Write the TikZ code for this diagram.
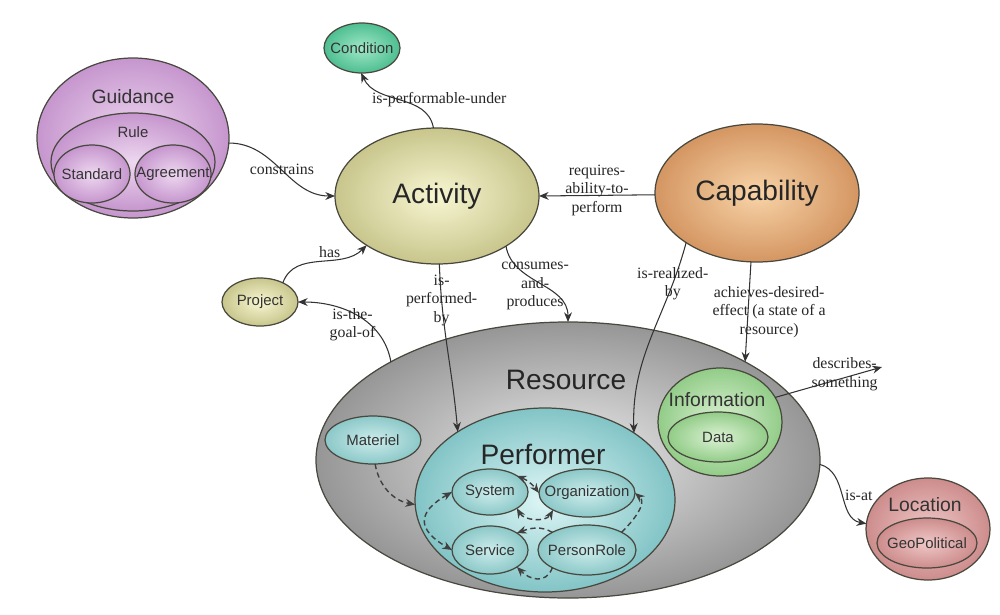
\documentclass[tikz,border=0pt]{standalone}
\usepackage{fontspec}
\setmainfont{Liberation Serif}
\setsansfont{Liberation Sans}
\usetikzlibrary{shapes.geometric,arrows.meta}

\definecolor{edgegray}{RGB}{72,72,62}
\definecolor{guidOut}{RGB}{198,150,206}
\definecolor{guidIn}{RGB}{238,216,240}
\definecolor{condOut}{RGB}{78,190,145}
\definecolor{condIn}{RGB}{160,232,200}
\definecolor{actOut}{RGB}{200,198,140}
\definecolor{actIn}{RGB}{248,246,210}
\definecolor{capOut}{RGB}{212,150,98}
\definecolor{capIn}{RGB}{248,212,168}
\definecolor{resOut}{RGB}{150,150,150}
\definecolor{resIn}{RGB}{236,236,236}
\definecolor{perfOut}{RGB}{130,196,198}
\definecolor{perfIn}{RGB}{222,246,246}
\definecolor{tealOut}{RGB}{140,200,200}
\definecolor{tealIn}{RGB}{205,236,236}
\definecolor{infoOut}{RGB}{146,204,136}
\definecolor{infoIn}{RGB}{220,242,212}
\definecolor{locOut}{RGB}{205,140,140}
\definecolor{locIn}{RGB}{240,200,200}

\begin{document}
\begin{tikzpicture}[x=0.2mm,y=-0.2mm,>={Stealth[length=5.5pt,width=4.5pt]},
	oval/.style n args={3}{ellipse,draw=edgegray,line width=0.7pt,inner sep=0pt,outer sep=0pt,
		minimum width={#1*0.2mm},minimum height={#2*0.2mm},inner color=#3In,outer color=#3Out},
	big/.style={font=\sffamily\fontsize{16}{18}\selectfont,text=black!85},
	mid/.style={font=\sffamily\fontsize{11}{13}\selectfont,text=black!80},
	small/.style={font=\sffamily\fontsize{8.5}{10}\selectfont,text=black!80},
	name big/.style={label={[big]center:#1}},
	name small/.style={label={[small]center:#1}},
	lbl/.style={font=\fontsize{9}{10.5}\selectfont,align=center,text=black!85,inner sep=1pt},
	link/.style={->,draw=black!80,line width=0.6pt},
	dep/.style={dashed,dash pattern=on 3pt off 2pt,line width=0.8pt,draw=black!75}]
	\useasboundingbox (0,0) rectangle (1000,614);

	\node[oval={192}{160}{guid}] (Guidance) at (133,138) {};
	\node[oval={164}{98}{guid}] (Rule) at (133,162) {};
	\node[oval={76}{58}{guid},name small=Standard] (Standard) at (92,174) {};
	\node[oval={76}{58}{guid},name small=Agreement] (Agreement) at (173,174) {};
	\node[mid] (guidanceText) at (133,97) {Guidance};
	\node[small] (ruleText) at (133,132) {Rule};

	\node[oval={76}{50}{cond},name small=Condition] (Condition) at (362,48) {};
	\node[oval={204}{136}{act},name big=Activity] (Activity) at (437,196) {};
	\node[oval={204}{138}{cap},name big=Capability] (Capability) at (757,193) {};
	\node[oval={76}{48}{act},name small=Project] (Project) at (260,302) {};

	\node[oval={504}{276}{res}] (Resource) at (568,460) {};
	\node[big] (resourceText) at (566,380) {Resource};
	\node[oval={96}{48}{teal},name small=Materiel] (Materiel) at (373,440) {};
	\node[oval={260}{184}{perf}] (Performer) at (545,500) {};
	\node[big] (performerText) at (543,454) {Performer};
	\node[oval={76}{46}{teal},name small=System] (System) at (490,492) {};
	\node[oval={96}{48}{teal},name small=Organization] (Organization) at (587,493) {};
	\node[oval={76}{48}{teal},name small=Service] (Service) at (490,550) {};
	\node[oval={98}{50}{teal},name small=PersonRole] (PersonRole) at (587,550) {};

	\node[oval={124}{108}{info}] (Information) at (720,422) {};
	\node[mid] (informationText) at (717,400) {Information};
	\node[oval={100}{50}{info},name small=Data] (Data) at (718,437) {};

	\node[oval={124}{102}{loc}] (Location) at (928,529) {};
	\node[mid] (locationText) at (925,505) {Location};
	\node[oval={100}{50}{loc},name small=GeoPolitical] (GeoPolitical) at (927,543) {};

	\coordinate (somethingEnd) at (882,367);

	\draw[link] (Guidance.-3) to[out=0,in=180] node[lbl,midway] {constrains} (Activity.180);
	\draw[link] (Activity.93) to[out=100,in=-65] node[lbl,pos=0.5,xshift=22pt] {is-performable-under} (Condition.-92);
	\draw[link] (Capability.181) -- node[lbl,midway,yshift=3pt] {requires-\\ability-to-\\perform} (Activity.0);
	\draw[link] (Project.40) to[out=70,in=225] node[lbl,above,pos=0.6] {has} (Activity.215);
	\draw[link] (Resource.151) to[out=100,in=0] node[lbl,pos=0.5,xshift=-3pt,yshift=-5pt] {is-the-\\goal-of} (Project.0);
	\draw[link] (Activity.-88) to[out=-88,in=95] node[lbl,pos=0.2] {is-\\performed-\\by} (Performer.142);
	\draw[link] (Activity.-36) to[out=-80,in=90] node[lbl,pos=0.45,yshift=-3pt] {consumes-\\and-\\produces} (Resource.90);
	\draw[link] (Capability.215) to[out=-105,in=92] node[lbl,pos=0.2] {is-realized-\\by} (Performer.37);
	\draw[link] (Capability.-95) -- node[lbl,midway,xshift=12pt] {achieves-desired-\\effect (a state of a\\resource)} (Resource.29);
	\draw[link] (Information.24) -- node[lbl,pos=0.65,yshift=2pt] {describes-\\something} (somethingEnd);
	\draw[link] (Resource.-1) to[out=-15,in=170] node[lbl,right,pos=0.5] {is-at} (Location.175);

	\draw[dep,->] (Materiel.-85) to[out=-80,in=170] (Performer.182);
	\draw[dep,<->] (System.west) to[out=210,in=150,looseness=1.8] (Service.west);
	\draw[dep,<->] (System.north east) to[bend left=15] (Organization.west);
	\draw[dep,<->] (System.south east) to[out=-60,in=-120] (Organization.south west);
	\draw[dep,->] (PersonRole.north west) to[out=150,in=20] (Service.north east);
	\draw[dep,->] (PersonRole.north east) to[out=45,in=-40] (Organization.east);
	\draw[dep,->] (PersonRole.south west) to[out=-110,in=-45,looseness=1.3] (Service.south east);
\end{tikzpicture}
\end{document}
